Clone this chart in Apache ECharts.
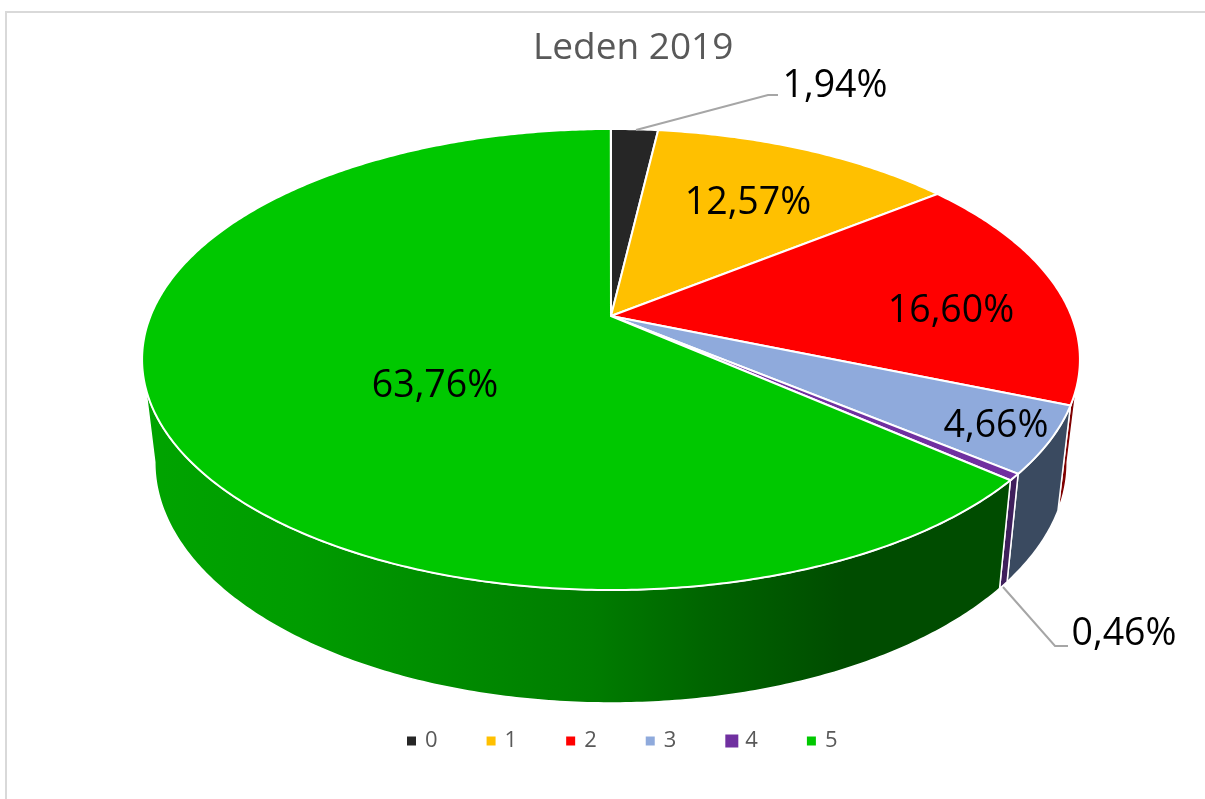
<!DOCTYPE html>
<html>
<head>
<meta charset="utf-8">
<title>Leden 2019</title>
<script src="https://cdn.jsdelivr.net/npm/echarts@6/dist/echarts.min.js"></script>
<style>
    html, body { margin: 0; padding: 0; background: #fff; }
    #chart { width: 1205px; height: 799px; }
</style>
</head>
<body>
<div id="chart"></div>
<script>
    const chartTitle = 'Leden 2019'
    const categories = ['0', '1', '2', '3', '4', '5']
    const shares = [1.94, 12.57, 16.60, 4.66, 0.46, 63.76]

    const topColors = ['#262626', '#ffc000', '#ff0000', '#8faadc', '#7030a0', '#00c800']
    const wallColors = ['#161616', '#7f6000', '#7f0000', '#3a4a60', '#3f1f5c', null]
    const greenWall = {
        type: 'linear', x: 142, y: 0, x2: 1010, y2: 0, global: true,
        colorStops: [
            {offset: 0, color: '#00a400'},
            {offset: 0.18, color: '#009c00'},
            {offset: 0.52, color: '#007c00'},
            {offset: 0.65, color: '#006400'},
            {offset: 0.81, color: '#004c00'},
            {offset: 1, color: '#004c00'}
        ]
    }

    // 透视下的圆盘：上表面和下表面
    const centerX = 611
    const tilt = -0.1887
    const topRing = {w: 460.5, a: 222.3, y0: 316}
    const bottomRing = {w: 448, a: 232, y0: 417}

    const labelFont = '"Open Sans", sans-serif'
    const labelPos = [[835, 86], [748, 203], [951, 311], [996, 426], [1124, 634], [435, 386]]
    const leaders = {
        0: [[636, 130], [768, 95], [778, 95]],
        4: [[1003, 587], [1055, 646], [1068, 646]]
    }

    function project (theta, ring) {
        let u = Math.sin(theta)
        let v = -Math.cos(theta)
        let d = 1 + tilt * v
        return [centerX + ring.w * u / d, ring.y0 + ring.a * v / d]
    }

    function arc (from, to, ring) {
        let pts = []
        let steps = Math.max(2, Math.ceil((to - from) / 0.01))
        for (let i = 0; i <= steps; i++) {
            pts.push(project(from + (to - from) * i / steps, ring))
        }
        return pts
    }

    function renderSlice (idx) {
        return function (params, api) {
            let share = api.value(0)
            let start = api.value(1) / 100 * Math.PI * 2
            let end = start + share / 100 * Math.PI * 2
            let children = []

            // 侧面只画朝前的部分
            let frontFrom = Math.max(start, Math.acos(tilt))
            let frontTo = Math.min(end, Math.PI * 2 - Math.acos(tilt))
            if (frontTo > frontFrom) {
                let wall = arc(frontFrom, frontTo, topRing).concat(arc(frontFrom, frontTo, bottomRing).reverse())
                children.push({
                    type: 'polygon',
                    z2: 1,
                    shape: {points: wall},
                    style: {fill: wallColors[idx] || greenWall, stroke: '#fff', lineWidth: 1.5}
                })
            }

            children.push({
                type: 'polygon',
                z2: 2,
                shape: {points: [[centerX, topRing.y0]].concat(arc(start, end, topRing))},
                style: {fill: api.visual('color'), stroke: '#fff', lineWidth: 2}
            })

            if (leaders[idx]) {
                children.push({
                    type: 'polyline',
                    z2: 3,
                    shape: {points: leaders[idx]},
                    style: {fill: null, stroke: '#a6a6a6', lineWidth: 2}
                })
            }

            children.push({
                type: 'text',
                z2: 4,
                x: labelPos[idx][0],
                y: labelPos[idx][1],
                style: {
                    text: share.toFixed(2).replace('.', ',') + '%',
                    fill: '#000',
                    font: '37.5px ' + labelFont,
                    align: 'center',
                    verticalAlign: 'middle'
                }
            })
            return {type: 'group', children: children}
        }
    }

    let seriesList = []
    let running = 0
    categories.forEach((name, i) => {
        seriesList.push({
            name: name,
            type: 'custom',
            coordinateSystem: 'none',
            clip: false,
            silent: true,
            itemStyle: {color: topColors[i]},
            renderItem: renderSlice(i),
            data: [[shares[i], running]]
        })
        running += shares[i]
    })

    let myChart = echarts.init(document.getElementById('chart'))
    myChart.setOption({
        animation: false,
        backgroundColor: '#fff',
        title: {
            text: chartTitle,
            left: 528,
            top: 25,
            textStyle: {color: '#595959', fontSize: 37, fontWeight: 'normal', fontFamily: labelFont}
        },
        legend: {
            left: 402,
            top: 725,
            icon: 'rect',
            itemWidth: 9,
            itemHeight: 9,
            itemGap: 49,
            selectedMode: false,
            textStyle: {color: '#595959', fontSize: 22, fontFamily: labelFont, padding: [0, 0, 0, 4]},
            data: categories.map((name, i) => i === 4
                ? {name: name, itemStyle: {borderColor: topColors[i], borderWidth: 4}}
                : {name: name})
        },
        graphic: [{
            type: 'rect',
            silent: true,
            shape: {x: 6, y: 12, width: 1400, height: 1000},
            style: {fill: null, stroke: '#d9d9d9', lineWidth: 2}
        }],
        series: seriesList
    })
</script>
</body>
</html>
